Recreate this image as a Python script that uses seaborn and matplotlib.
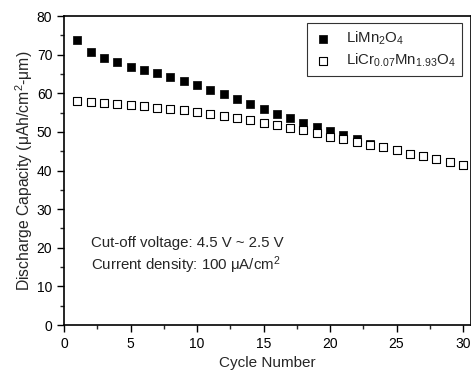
import numpy as np
import pandas as pd
import matplotlib
matplotlib.use('Agg')
import matplotlib.pyplot as plt
import seaborn as sns
from matplotlib.ticker import MultipleLocator

# Values
cycles = list(range(1, 31))
limn2o4 = [73.8, 70.6, 69.1, 68.0, 66.9, 66.0, 65.3, 64.2, 63.3, 62.2,
           60.9, 59.8, 58.5, 57.3, 56.0, 54.7, 53.5, 52.3, 51.3, 50.2,
           49.1, 48.1, 46.9, 46.1, 45.2, 44.4, 43.8, 42.9, 42.3, 41.5]
licr_mn = [58.1, 57.7, 57.6, 57.2, 57.0, 56.6, 56.3, 56.0, 55.6, 55.2,
           54.6, 54.0, 53.6, 53.1, 52.4, 51.8, 51.0, 50.4, 49.6, 48.8,
           48.1, 47.5, 46.7, 46.1, 45.2, 44.4, 43.8, 42.9, 42.3, 41.5]

df = pd.DataFrame({'Cycle': cycles, 'LiMn2O4': limn2o4, 'LiCr': licr_mn})

sns.set_style('ticks')
plt.rcParams['font.family'] = ['Liberation Sans', 'DejaVu Sans']
plt.rcParams['mathtext.fontset'] = 'custom'
plt.rcParams['mathtext.rm'] = 'Liberation Sans'
plt.rcParams['mathtext.it'] = 'Liberation Sans'

fig = plt.figure(figsize=(4.71, 3.74), dpi=100)
ax = fig.add_axes([0.136, 0.131, 0.864, 0.826])

sns.scatterplot(data=df, x='Cycle', y='LiMn2O4', ax=ax, marker='s', s=30,
                color='black', edgecolor='black', linewidth=0.5,
                label=r'LiMn$_2$O$_4$', zorder=3)
sns.scatterplot(data=df, x='Cycle', y='LiCr', ax=ax, marker='s', s=26,
                facecolor='white', edgecolor='black', linewidth=0.8,
                label=r'LiCr$_{0.07}$Mn$_{1.93}$O$_4$', zorder=4)

ax.set_xlim(0, 30.6)
ax.set_ylim(0, 80)
ax.xaxis.set_major_locator(MultipleLocator(5))
ax.xaxis.set_minor_locator(MultipleLocator(2.5))
ax.yaxis.set_major_locator(MultipleLocator(10))
ax.yaxis.set_minor_locator(MultipleLocator(5))
ax.tick_params(which='major', direction='out', length=5, width=1, labelsize=10, colors='black')
ax.tick_params(which='minor', direction='out', length=3, width=1)
for sp in ax.spines.values():
    sp.set_linewidth(1.2)
    sp.set_color('black')

ax.set_xlabel('Cycle Number', fontsize=11, labelpad=4)
ax.set_ylabel(r'Discharge Capacity ($\mu$Ah/cm$^2$-$\mu$m)', fontsize=11.3, labelpad=1)

ax.text(2.0, 21.2, 'Cut-off voltage: 4.5 V ~ 2.5 V', fontsize=10.8, va='center')
ax.text(2.0, 15.5, r'Current density: 100 $\mu$A/cm$^2$', fontsize=10.8, va='center')

leg = ax.legend(loc='upper right', bbox_to_anchor=(0.978, 0.977), borderaxespad=0,
                fontsize=10.8, frameon=True, fancybox=False, edgecolor='black',
                handlelength=1.2, handletextpad=0.9, borderpad=0.45,
                labelspacing=0.3, markerscale=1.0)
leg.get_frame().set_linewidth(0.8)

fig.savefig('out.png', dpi=100)
